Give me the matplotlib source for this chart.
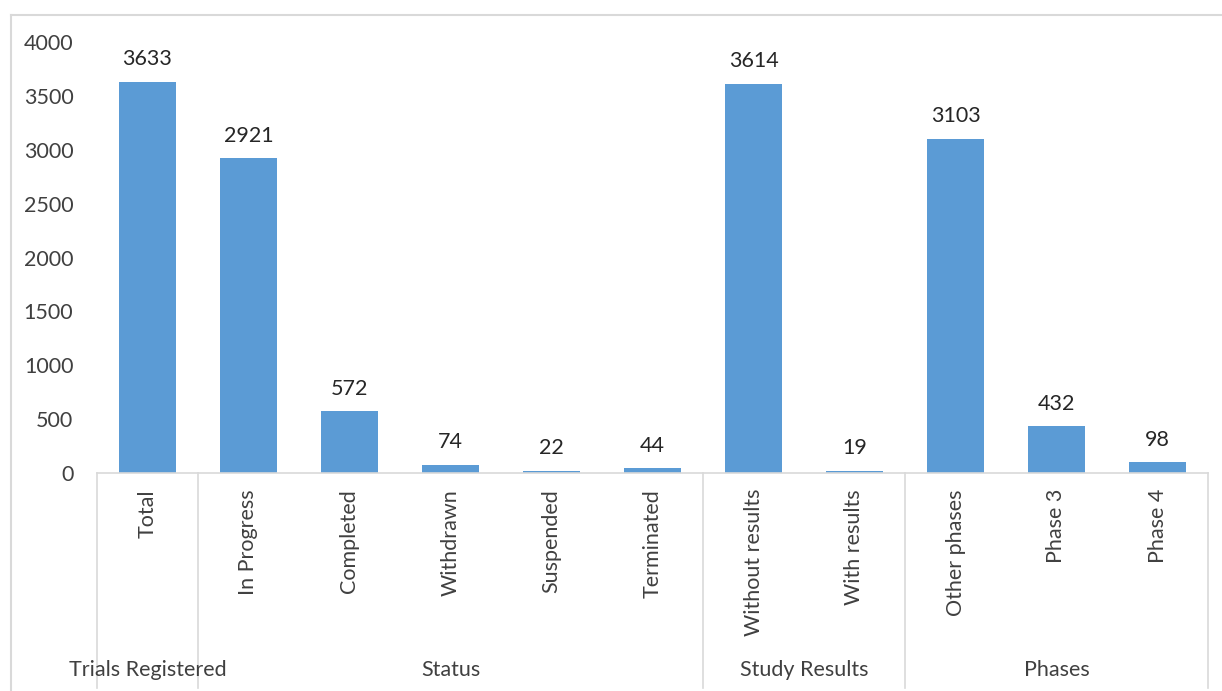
import matplotlib
matplotlib.use("Agg")
import matplotlib.pyplot as plt
from matplotlib.lines import Line2D

plt.rcParams['font.family'] = ['Lato', 'DejaVu Sans']

categories = ["Total", "In Progress", "Completed", "Withdrawn", "Suspended",
              "Terminated", "Without results", "With results",
              "Other phases", "Phase 3", "Phase 4"]
values = [3633, 2921, 572, 74, 22, 44, 3614, 19, 3103, 432, 98]
groups = ["Trials Registered", "Status", "Study Results", "Phases"]
group_sizes = [1, 5, 2, 3]
y_ticks = [0, 500, 1000, 1500, 2000, 2500, 3000, 3500, 4000]

W, H, DPI = 1222, 691, 100
fig = plt.figure(figsize=(W / DPI, H / DPI), dpi=DPI)

# axes placed in pixel terms
x0, x1 = 97, 1208
y_zero, y_top = 473, 42
ax = fig.add_axes([x0 / W, 1 - y_zero / H, (x1 - x0) / W, (y_zero - y_top) / H])

bar_color = "#5B9BD5"
grid_gray = "#D9D9D9"
text_gray = "#404040"
fs = 15.5

xs = list(range(len(categories)))
bars = ax.bar(xs, values, width=0.57, color=bar_color, zorder=2)

ax.set_xlim(-0.5, len(categories) - 0.5)
ax.set_ylim(0, 4000)
ax.set_yticks(y_ticks)
ax.set_yticklabels([str(t) for t in y_ticks], fontsize=fs, color=text_gray)
ax.tick_params(axis='y', length=0, pad=17)
ax.set_xticks([])

for s in ["left", "right", "top"]:
    ax.spines[s].set_visible(False)
ax.spines["bottom"].set_color(grid_gray)
ax.spines["bottom"].set_linewidth(1.2)

# value labels above each bar
for xi, v in zip(xs, values):
    ax.annotate(str(v), xy=(xi, v), xytext=(0, 12), textcoords="offset points",
                ha="center", va="baseline", fontsize=fs, color="#262626")

axes_h_px = y_zero - y_top
def px_to_axfrac(py):
    return -(py - y_zero) / axes_h_px

# rotated category labels
for xi, c in zip(xs, categories):
    ax.text(xi, px_to_axfrac(489), c, rotation=90, ha="center", va="top",
            fontsize=fs, color=text_gray,
            transform=ax.get_xaxis_transform())

# group separators and group labels
bottom_frac = px_to_axfrac(688)
start = 0
bounds = [-0.5]
for g, n in zip(groups, group_sizes):
    end = start + n
    bounds.append(end - 0.5)
    ax.text((start + end - 1) / 2, px_to_axfrac(670), g, ha="center", va="center",
            fontsize=fs, color=text_gray, transform=ax.get_xaxis_transform())
    start = end

for b in bounds:
    ax.add_line(Line2D([b, b], [0, bottom_frac], color=grid_gray, lw=1.2,
                       transform=ax.get_xaxis_transform(), clip_on=False))

# outer chart frame
fx, fy = 11 / W, 1 - 15 / H
fig.add_artist(Line2D([fx, 1.0], [fy, fy], color=grid_gray, lw=1.5,
                      transform=fig.transFigure))
fig.add_artist(Line2D([fx, fx], [0.0, fy], color=grid_gray, lw=1.5,
                      transform=fig.transFigure))

fig.savefig("out.png", dpi=DPI)
